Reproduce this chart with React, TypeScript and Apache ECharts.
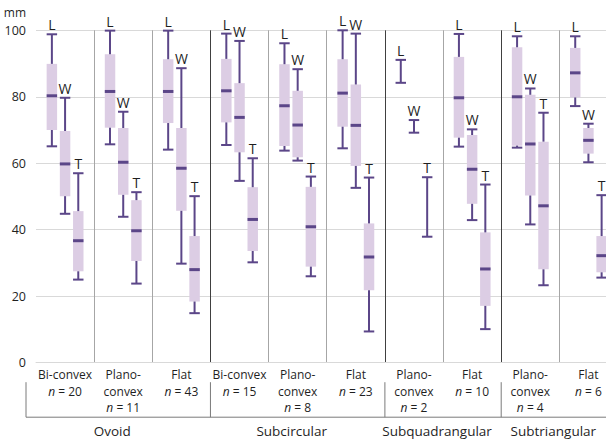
import React, { useEffect, useRef } from 'react';
import * as echarts from 'echarts';

// ---- data ----
const categoryNames = ['Bi-convex', 'Plano-\nconvex', 'Flat', 'Bi-convex', 'Plano-\nconvex', 'Flat', 'Plano-\nconvex', 'Flat', 'Plano-\nconvex', 'Flat'];
const sampleSizes = [20, 11, 43, 15, 8, 23, 2, 10, 4, 6];
const groupNames = ['Ovoid', 'Subcircular', 'Subquadrangular', 'Subtriangular'];
const groupSpans = [3, 3, 2, 2];
const measureNames = ['L', 'W', 'T'];
const yTicks = [0, 20, 40, 60, 80, 100];

// [min, q1, median, q3, max]
const lengthStats: (number | null)[][] = [
  [65.1, 70.0, 80.3, 89.9, 98.8],
  [65.7, 70.7, 81.6, 92.8, 99.9],
  [64.1, 72.1, 81.6, 91.3, 99.9],
  [65.5, 72.3, 81.8, 91.4, 99.0],
  [63.8, 65.2, 77.3, 89.8, 96.1],
  [64.5, 71.0, 81.1, 91.3, 100.0],
  [84.2, null, null, null, 91.1],
  [65.0, 67.7, 79.7, 92.0, 98.9],
  [64.7, 65.3, 80.0, 94.9, 98.2],
  [77.2, 79.8, 87.2, 94.7, 98.2],
];
const widthStats: (number | null)[][] = [
  [44.8, 50.1, 59.8, 69.7, 79.7],
  [43.9, 50.5, 60.3, 70.6, 75.5],
  [29.8, 45.7, 58.5, 70.6, 88.6],
  [54.7, 63.3, 73.8, 84.1, 96.8],
  [60.8, 61.8, 71.5, 81.8, 88.3],
  [52.6, 59.2, 71.4, 83.7, 99.0],
  [69.2, null, null, null, 73.0],
  [42.9, 47.8, 58.2, 68.5, 70.2],
  [41.6, 50.3, 65.8, 80.6, 82.5],
  [60.3, 62.9, 66.9, 70.6, 71.9],
];
const thicknessStats: (number | null)[][] = [
  [25.0, 27.5, 36.7, 45.6, 57.0],
  [23.8, 30.6, 39.7, 48.9, 51.3],
  [14.9, 18.4, 28.0, 38.1, 50.1],
  [30.2, 33.6, 43.1, 52.8, 61.5],
  [26.0, 28.9, 40.9, 52.9, 56.0],
  [9.4, 21.8, 31.8, 41.9, 55.7],
  [37.9, null, null, null, 55.8],
  [10.1, 17.1, 28.2, 39.2, 53.6],
  [23.3, 28.1, 47.2, 66.5, 75.2],
  [25.6, 27.2, 32.2, 38.1, 50.4],
];

const DARK = '#5b4688';
const LIGHT = '#dccde4';
const TEXT = '#1f1f1f';
const FONT = 'Open Sans';

export default function App() {
  const ref = useRef<HTMLDivElement>(null);

  useEffect(() => {
    const chart = echarts.init(ref.current!, null, { renderer: 'svg' });
    const allStats = [lengthStats, widthStats, thicknessStats];
    const data: any[] = [];
    allStats.forEach((stats, m) => {
      stats.forEach((s, c) => {
        data.push([c, m, ...s.map((v) => (v === null ? '-' : v))]);
      });
    });

    // group boundaries (category indices where a group starts)
    const groupStarts: number[] = [];
    let acc = 0;
    groupSpans.forEach((n) => { groupStarts.push(acc); acc += n; });

    const splitColors: string[] = [];
    for (let k = 0; k <= categoryNames.length; k++) {
      if (k === 0) splitColors.push('rgba(0,0,0,0)');
      else if (groupStarts.includes(k)) splitColors.push('#404040');
      else splitColors.push('#a6a6a6');
    }

    const option: any = {
      animation: false,
      grid: { left: 36, top: 30.3, right: -11.5, bottom: 77.3, containLabel: false, outerBoundsMode: 'none' },
      xAxis: {
        type: 'category',
        data: categoryNames.map((n, i) => ({ value: String(i), label: n })),
        boundaryGap: true,
        axisLine: { show: true, lineStyle: { color: '#d9d9d9', width: 1 } },
        axisTick: { show: false },
        splitLine: { show: true, interval: 0, lineStyle: { color: splitColors, width: 1 } },
        axisLabel: {
          interval: 0,
          margin: 4,
          color: TEXT,
          fontFamily: FONT,
          fontSize: 12,
          lineHeight: 16.5,
          hideOverlap: false,
          formatter: (_v: string, i: number) => `${categoryNames[i]}\n{i|n} = ${sampleSizes[i]}`,
          rich: {
            i: { fontStyle: 'italic', fontFamily: FONT, fontSize: 12, lineHeight: 16.5, color: TEXT },
          },
        },
      },
      yAxis: {
        type: 'value',
        min: yTicks[0],
        max: yTicks[yTicks.length - 1],
        interval: yTicks[1] - yTicks[0],
        name: 'mm',
        nameLocation: 'end',
        nameGap: 12,
        nameMoveOverlap: false,
        nameTextStyle: { color: TEXT, fontFamily: FONT, fontSize: 12, align: 'right', padding: [0, 10, 0, 0] },
        axisLine: { show: false },
        axisTick: { show: false },
        axisLabel: { color: TEXT, fontFamily: FONT, fontSize: 12.5, margin: 10 },
        splitLine: { show: true, lineStyle: { color: '#d9d9d9', width: 1 } },
      },
      series: [
        {
          type: 'custom',
          data,
          encode: { x: 0, y: [2, 3, 4, 5, 6] },
          renderItem: (params: any, api: any) => {
            const cat = api.value(0);
            const m = api.value(1);
            const band = api.size([1, 0])[0];
            const cx = api.coord([cat, 0])[0] + (m - 1) * band * 0.227;
            const bw = band * 0.18;
            const y = (v: number) => api.coord([cat, v])[1];
            const mn = api.value(2), q1 = api.value(3), md = api.value(4), q3 = api.value(5), mx = api.value(6);
            const hasBox = !isNaN(q1) && !isNaN(q3);
            const ls = { stroke: DARK, lineWidth: 2 };
            const children: any[] = [];
            if (hasBox) {
              children.push({ type: 'rect', shape: { x: cx - bw / 2, y: y(q3), width: bw, height: y(q1) - y(q3) }, style: { fill: LIGHT } });
              children.push({ type: 'line', shape: { x1: cx, y1: y(mx), x2: cx, y2: y(q3) }, style: ls });
              children.push({ type: 'line', shape: { x1: cx, y1: y(q1), x2: cx, y2: y(mn) }, style: ls });
              children.push({ type: 'line', shape: { x1: cx - bw / 2, y1: y(md), x2: cx + bw / 2, y2: y(md) }, style: { stroke: DARK, lineWidth: 3 } });
            } else {
              children.push({ type: 'line', shape: { x1: cx, y1: y(mx), x2: cx, y2: y(mn) }, style: ls });
            }
            children.push({ type: 'line', shape: { x1: cx - bw / 2, y1: y(mx), x2: cx + bw / 2, y2: y(mx) }, style: ls });
            children.push({ type: 'line', shape: { x1: cx - bw / 2, y1: y(mn), x2: cx + bw / 2, y2: y(mn) }, style: ls });
            children.push({
              type: 'text',
              style: { x: cx, y: y(mx) - 2.5, text: measureNames[m], align: 'center', verticalAlign: 'bottom', fontSize: 14, fontFamily: FONT, fill: TEXT },
            });
            return { type: 'group', children };
          },
        },
      ],
    };
    chart.setOption(option);

    // bracket lines & group labels, positioned through the axis scales
    const c0 = chart.convertToPixel({ xAxisIndex: 0 }, '0') as number;
    const c1 = chart.convertToPixel({ xAxisIndex: 0 }, '1') as number;
    const band = c1 - c0;
    const boundary = (k: number) => c0 - band / 2 + k * band;
    const yBase = chart.convertToPixel({ yAxisIndex: 0 }, 0) as number;
    const yTop = yBase + 19.5;
    const yBot = yBase + 54.5;
    const xLeft = boundary(0) - 10;
    const bracket = { stroke: '#7a7a7a', lineWidth: 1 };
    const graphic: any[] = [];
    graphic.push({ type: 'line', shape: { x1: xLeft, y1: yTop, x2: xLeft, y2: yBot }, style: bracket, silent: true });
    graphic.push({ type: 'line', shape: { x1: xLeft, y1: yBot, x2: boundary(categoryNames.length) + 20, y2: yBot }, style: bracket, silent: true });
    groupStarts.slice(1).forEach((k) => {
      graphic.push({ type: 'line', shape: { x1: boundary(k), y1: yTop, x2: boundary(k), y2: yBot }, style: bracket, silent: true });
    });
    groupNames.forEach((g, gi) => {
      const a = gi === 0 ? xLeft : boundary(groupStarts[gi]);
      const b = boundary(groupStarts[gi] + groupSpans[gi]);
      graphic.push({
        type: 'text',
        x: (a + b) / 2 - 6,
        y: yBot + 14,
        style: { text: g, align: 'center', verticalAlign: 'middle', fontSize: 13.5, fontFamily: FONT, fill: TEXT },
        silent: true,
      });
    });
    chart.setOption({ graphic });

    return () => chart.dispose();
  }, []);

  return <div ref={ref} style={{ position: 'absolute', left: 0, top: 0, width: 606, height: 440 }} />;
}
